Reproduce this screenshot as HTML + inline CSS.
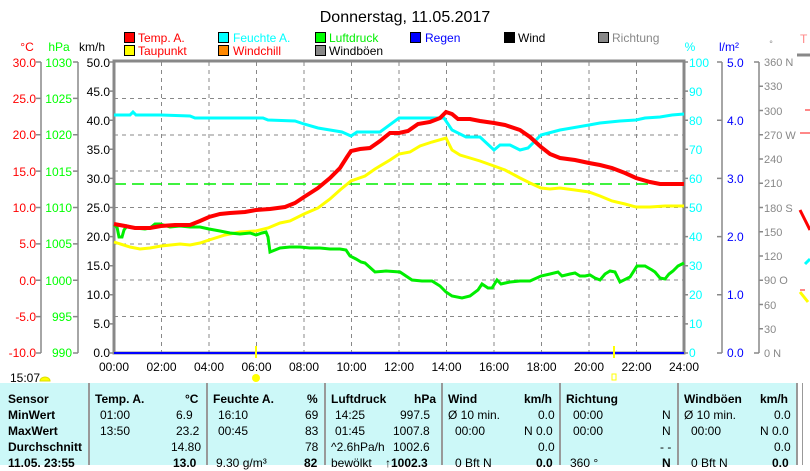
<!DOCTYPE html>
<html><head><meta charset="utf-8"><style>
body{margin:0;width:810px;height:465px;overflow:hidden;background:#fff;font-family:"Liberation Sans",sans-serif;position:relative}
.t{position:absolute;font-size:12px;white-space:nowrap;line-height:14px}
.tb{position:absolute;top:383px;height:82px;background:#ccf8f8}
.c{position:absolute;font-size:12px;white-space:nowrap;line-height:16px;color:#000}
.b{font-weight:bold}
.sep{position:absolute;top:383px;height:82px;width:2px;background:#999}
</style></head><body>
<svg width="810" height="465" style="position:absolute;left:0;top:0" font-family="Liberation Sans, sans-serif" font-size="12">
<text x="405" y="22" text-anchor="middle" font-size="16">Donnerstag, 11.05.2017</text>
<!-- legend -->
<g stroke="#000" stroke-width="1">
<rect x="124.5" y="32.5" width="10" height="10" fill="#f00"/>
<rect x="124.5" y="45.5" width="10" height="10" fill="#ff0"/>
<rect x="218.5" y="32.5" width="10" height="10" fill="#0ff"/>
<rect x="218.5" y="45.5" width="10" height="10" fill="#f80"/>
<rect x="315.5" y="32.5" width="10" height="10" fill="#0f0"/>
<rect x="315.5" y="45.5" width="10" height="10" fill="#888"/>
<rect x="410.5" y="32.5" width="10" height="10" fill="#00f"/>
<rect x="504.5" y="32.5" width="10" height="10" fill="#000"/>
<rect x="598.5" y="32.5" width="10" height="10" fill="#888"/>
</g>
<text x="138" y="42" fill="#f00">Temp. A.</text>
<text x="138" y="55" fill="#f00">Taupunkt</text>
<text x="233" y="42" fill="#0ff">Feuchte A.</text>
<text x="233" y="55" fill="#f00">Windchill</text>
<text x="329" y="42" fill="#0e0">Luftdruck</text>
<text x="329" y="55" fill="#000">Windböen</text>
<text x="425" y="42" fill="#00f">Regen</text>
<text x="518" y="42" fill="#000">Wind</text>
<text x="612" y="42" fill="#888">Richtung</text>
<text x="27" y="51" fill="#f00" text-anchor="middle">°C</text>
<text x="59" y="51" fill="#0f0" text-anchor="middle">hPa</text>
<text x="92" y="51" fill="#000" text-anchor="middle">km/h</text>
<text x="690" y="51" fill="#0ff" text-anchor="middle">%</text>
<text x="729" y="51" fill="#00f" text-anchor="middle">l/m²</text>
<text x="771" y="47" fill="#888" text-anchor="middle" font-size="9">°</text>
<text x="800" y="43" fill="#f88">T</text>
<!-- grid -->
<g stroke="#888" stroke-dasharray="4,4" stroke-width="1">
<line x1="114" y1="98.5" x2="684" y2="98.5"/><line x1="114" y1="135" x2="684" y2="135"/>
<line x1="114" y1="171" x2="684" y2="171"/><line x1="114" y1="207.5" x2="684" y2="207.5"/>
<line x1="114" y1="244" x2="684" y2="244"/><line x1="114" y1="280" x2="684" y2="280"/>
<line x1="114" y1="316.5" x2="684" y2="316.5"/>
<line x1="161.5" y1="62" x2="161.5" y2="353"/><line x1="209" y1="62" x2="209" y2="353"/>
<line x1="256.5" y1="62" x2="256.5" y2="353"/><line x1="304" y1="62" x2="304" y2="353"/>
<line x1="351.5" y1="62" x2="351.5" y2="353"/><line x1="399" y1="62" x2="399" y2="353"/>
<line x1="446.5" y1="62" x2="446.5" y2="353"/><line x1="494" y1="62" x2="494" y2="353"/>
<line x1="541.5" y1="62" x2="541.5" y2="353"/><line x1="589" y1="62" x2="589" y2="353"/>
<line x1="636.5" y1="62" x2="636.5" y2="353"/>
</g>
<line x1="114" y1="184" x2="684" y2="184" stroke="#0e0" stroke-dasharray="12,6" stroke-width="1.5"/>
<!-- frame -->
<rect x="114" y="61" width="570" height="292" fill="none" stroke="#888" stroke-width="3"/>
<line x1="114" y1="353" x2="684" y2="353" stroke="#00f" stroke-width="2"/>
<!-- left axes -->
<g stroke="#888" stroke-width="1.5" fill="none">
<line x1="41" y1="62" x2="41" y2="353"/><line x1="78" y1="62" x2="78" y2="353"/>
<line x1="722" y1="62" x2="722" y2="353"/><line x1="759" y1="62" x2="759" y2="353"/>
<path d="M36 62h5M36 98.4h5M36 134.8h5M36 171.1h5M36 207.5h5M36 243.9h5M36 280.3h5M36 316.6h5M36 353h5"/>
<path d="M73 62h5M73 98.4h5M73 134.8h5M73 171.1h5M73 207.5h5M73 243.9h5M73 280.3h5M73 316.6h5M73 353h5"/>
<path d="M110 62h4M110 91.1h4M110 120.2h4M110 149.3h4M110 178.4h4M110 207.5h4M110 236.6h4M110 265.7h4M110 294.8h4M110 323.9h4M110 353h4"/>
<path d="M684 62h4M684 91.1h4M684 120.2h4M684 149.3h4M684 178.4h4M684 207.5h4M684 236.6h4M684 265.7h4M684 294.8h4M684 323.9h4M684 353h4"/>
<path d="M717 62h5M717 120.2h5M717 178.4h5M717 236.6h5M717 294.8h5M717 353h5"/>
<path d="M754 62h5M759 86.25h4M759 110.5h4M759 134.75h4M759 159h4M759 183.25h4M759 207.5h4M759 231.75h4M759 256h4M759 280.25h4M759 304.5h4M759 328.75h4M754 353h5"/>
</g>
<g fill="#f00" text-anchor="end">
<text x="36" y="67">30.0</text><text x="36" y="103">25.0</text><text x="36" y="139">20.0</text><text x="36" y="176">15.0</text><text x="36" y="212">10.0</text><text x="36" y="248">5.0</text><text x="36" y="285">0.0</text><text x="36" y="321">-5.0</text><text x="36" y="357">-10.0</text></g>
<g fill="#0f0" text-anchor="end">
<text x="72" y="67">1030</text><text x="72" y="103">1025</text><text x="72" y="139">1020</text><text x="72" y="176">1015</text><text x="72" y="212">1010</text><text x="72" y="248">1005</text><text x="72" y="285">1000</text><text x="72" y="321">995</text><text x="72" y="357">990</text></g>
<g fill="#000" text-anchor="end">
<text x="110" y="67">50.0</text><text x="110" y="96">45.0</text><text x="110" y="125">40.0</text><text x="110" y="154">35.0</text><text x="110" y="183">30.0</text><text x="110" y="212">25.0</text><text x="110" y="241">20.0</text><text x="110" y="270">15.0</text><text x="110" y="299">10.0</text><text x="110" y="328">5.0</text><text x="110" y="357">0.0</text></g>
<g fill="#0ff">
<text x="689" y="67">100</text><text x="689" y="96">90</text><text x="689" y="125">80</text><text x="689" y="154">70</text><text x="689" y="183">60</text><text x="689" y="212">50</text><text x="689" y="241">40</text><text x="689" y="270">30</text><text x="689" y="299">20</text><text x="689" y="328">10</text><text x="689" y="357">0</text></g>
<g fill="#00f">
<text x="727" y="67">5.0</text><text x="727" y="125">4.0</text><text x="727" y="183">3.0</text><text x="727" y="241">2.0</text><text x="727" y="299">1.0</text><text x="727" y="357">0.0</text></g>
<g fill="#888" font-size="11">
<text x="764" y="66">360 N</text><text x="764" y="90">330</text><text x="764" y="115">300</text><text x="764" y="139">270 W</text><text x="764" y="163">240</text><text x="764" y="187">210</text><text x="764" y="212">180 S</text><text x="764" y="236">150</text><text x="764" y="260">120</text><text x="764" y="284">90   O</text><text x="764" y="309">60</text><text x="764" y="333">30</text><text x="764" y="357">0    N</text></g>
<g fill="#000" text-anchor="middle">
<text x="114" y="371">00:00</text><text x="161.5" y="371">02:00</text><text x="209" y="371">04:00</text><text x="256.5" y="371">06:00</text><text x="304" y="371">08:00</text><text x="351.5" y="371">10:00</text><text x="399" y="371">12:00</text><text x="446.5" y="371">14:00</text><text x="494" y="371">16:00</text><text x="541.5" y="371">18:00</text><text x="589" y="371">20:00</text><text x="636.5" y="371">22:00</text><text x="684" y="371">24:00</text></g>
<text x="10" y="382">15:07</text>
<path d="M40 381a5 4 0 0 1 10 0z" fill="#ff0" stroke="#dd0"/>
<line x1="256" y1="346" x2="256" y2="358" stroke="#ff0" stroke-width="2"/>
<line x1="614" y1="346" x2="614" y2="358" stroke="#ff0" stroke-width="2"/>
<circle cx="256" cy="378" r="4" fill="#ff0"/>
<rect x="612" y="374" width="4" height="6" fill="none" stroke="#ff0"/>
<!-- series -->
<polyline fill="none" stroke="#0ff" stroke-width="3" points="114,115 130,115 133,112 136,115 161,115 190,116 195,118 240,118 263,118 268,120 295,121 304,124 318,128 330,130 342,132 351,136 357,132 380,132 399,118 420,118 444,118 452,130 466,137 480,137 494,150 500,145 510,145 520,150 528,148 541,135 560,130 589,125 600,123 620,121 636,120 645,118 660,117 672,115 684,114"/>
<polyline fill="none" stroke="#ff0" stroke-width="3" points="114,242 130,247 140,249 150,248 161,246 180,244 190,245 200,243 209,240 225,235 240,232 256,231 268,228 280,223 290,221 304,214 318,208 330,199 340,190 351,181 365,176 375,169 390,160 399,154 410,152 420,146 432,142 446,138 452,150 460,155 470,158 480,161 494,166 505,170 520,178 530,183 541,188 550,189 560,188 575,190 589,192 600,196 612,201 625,204 636,207 650,207 665,206 684,206"/>
<polyline fill="none" stroke="#0e0" stroke-width="3" points="114,225 117,227 119,237 122,237 124,230 127,226 135,228 145,229 150,228 155,224 160,224 170,227 180,226 190,227 200,227 209,229 220,231 230,233 240,234 250,233 256,235 262,233 266,232 268,237 270,252 280,248 290,247 300,247 310,248 320,248 330,249 340,249 346,250 350,256 356,259 361,262 365,263 375,272 386,271 400,272 412,280 422,281 432,281 440,286 446,292 452,296 462,298 470,296 478,290 482,284 488,288 492,288 497,280 501,284 510,282 520,281 530,281 541,276 550,274 558,272 562,276 570,274 575,273 580,276 585,276 590,275 595,278 600,280 605,274 610,271 615,272 620,282 630,277 637,266 645,266 652,270 655,272 660,278 665,279 669,274 673,271 678,266 684,263"/>
<polyline fill="none" stroke="#f00" stroke-width="4" points="114,224 125,226 135,228 150,228 161,226 175,225 190,225 200,221 209,217 220,214 230,213 245,212 256,210 270,209 285,207 295,203 304,197 318,188 330,178 340,168 347,157 351,151 360,149 370,148 380,141 390,133 399,133 408,131 418,124 430,122 440,118 446,112 452,114 458,119 470,119 480,121 494,123 505,125 520,130 530,137 541,147 550,154 560,158 575,160 589,163 600,165 612,168 625,173 636,178 650,182 660,184 684,184"/>
<!-- right clipped chart -->
<line x1="797" y1="55" x2="810" y2="55" stroke="#888" stroke-width="3"/>
<path d="M805 110h5M800 133h10M800 290h5" stroke="#f88" stroke-width="2"/>
<path d="M800 210l10 20" stroke="#f00" stroke-width="3"/>
<path d="M805 264l5-5" stroke="#0ff" stroke-width="3"/>
<path d="M800 292l8 10" stroke="#ff0" stroke-width="3"/>
</svg>
<div class="tb" style="left:0;width:797px"></div>
<div class="sep" style="left:88px"></div><div class="sep" style="left:206px"></div><div class="sep" style="left:324px"></div><div class="sep" style="left:441px"></div><div class="sep" style="left:559px"></div><div class="sep" style="left:677px"></div><div class="sep" style="left:796px"></div>
<div class="sep" style="left:802px;width:1px"></div>
<div class="c b" style="left:8px;top:391px">Sensor</div>
<div class="c b" style="left:8px;top:407px">MinWert</div>
<div class="c b" style="left:8px;top:423px">MaxWert</div>
<div class="c b" style="left:8px;top:439px">Durchschnitt</div>
<div class="c b" style="left:8px;top:455px">11.05. 23:55</div>
<div class="c b" style="left:95px;top:391px">Temp. A.</div><div class="c b" style="left:185px;top:391px">°C</div>
<div class="c" style="left:100px;top:407px">01:00</div><div class="c" style="left:176px;top:407px">6.9</div>
<div class="c" style="left:100px;top:423px">13:50</div><div class="c" style="left:176px;top:423px">23.2</div>
<div class="c" style="left:171px;top:439px">14.80</div><div class="c b" style="left:173px;top:455px">13.0</div>
<div class="c b" style="left:213px;top:391px">Feuchte A.</div><div class="c b" style="left:307px;top:391px">%</div>
<div class="c" style="left:218px;top:407px">16:10</div><div class="c" style="left:305px;top:407px">69</div>
<div class="c" style="left:218px;top:423px">00:45</div><div class="c" style="left:305px;top:423px">83</div>
<div class="c" style="left:305px;top:439px">78</div><div class="c" style="left:216px;top:455px">9.30 g/m³</div><div class="c b" style="left:304px;top:455px">82</div>
<div class="c b" style="left:331px;top:391px">Luftdruck</div><div class="c b" style="left:414px;top:391px">hPa</div>
<div class="c" style="left:335px;top:407px">14:25</div><div class="c" style="left:400px;top:407px">997.5</div>
<div class="c" style="left:335px;top:423px">01:45</div><div class="c" style="left:393px;top:423px">1007.8</div>
<div class="c" style="left:331px;top:439px">^2.6hPa/h</div><div class="c" style="left:393px;top:439px">1002.6</div>
<div class="c" style="left:331px;top:455px">bewölkt</div><div class="c b" style="left:385px;top:455px">↑1002.3</div>
<div class="c b" style="left:448px;top:391px">Wind</div><div class="c b" style="left:524px;top:391px">km/h</div>
<div class="c" style="left:448px;top:407px">Ø 10 min.</div><div class="c" style="left:538px;top:407px">0.0</div>
<div class="c" style="left:455px;top:423px">00:00</div><div class="c" style="left:524px;top:423px">N 0.0</div>
<div class="c" style="left:538px;top:439px">0.0</div><div class="c" style="left:455px;top:455px">0 Bft N</div><div class="c b" style="left:536px;top:455px">0.0</div>
<div class="c b" style="left:566px;top:391px">Richtung</div>
<div class="c" style="left:573px;top:407px">00:00</div><div class="c" style="left:662px;top:407px">N</div>
<div class="c" style="left:573px;top:423px">00:00</div><div class="c" style="left:662px;top:423px">N</div>
<div class="c" style="left:660px;top:439px">- -</div><div class="c" style="left:570px;top:455px">360 °</div><div class="c b" style="left:662px;top:455px">N</div>
<div class="c b" style="left:684px;top:391px">Windböen</div><div class="c b" style="left:760px;top:391px">km/h</div>
<div class="c" style="left:684px;top:407px">Ø 10 min.</div><div class="c" style="left:774px;top:407px">0.0</div>
<div class="c" style="left:691px;top:423px">00:00</div><div class="c" style="left:760px;top:423px">N 0.0</div>
<div class="c" style="left:774px;top:439px">0.0</div><div class="c" style="left:691px;top:455px">0 Bft N</div><div class="c b" style="left:772px;top:455px">0.0</div>
</body></html>
